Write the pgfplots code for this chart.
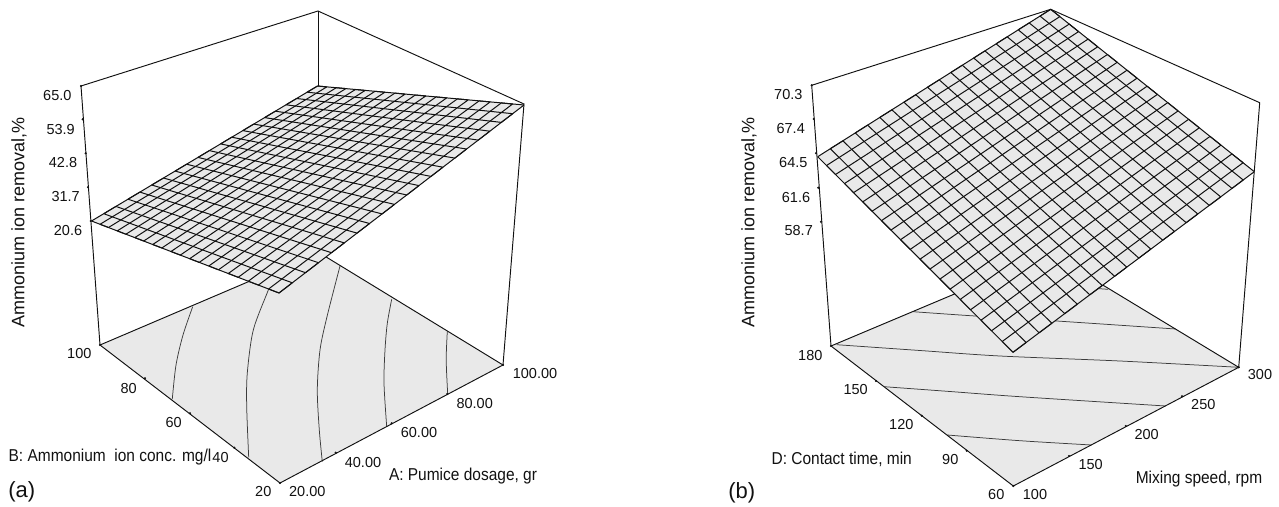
\documentclass[border=0pt]{standalone}
\usepackage{pgfplots}
\usepackage{fontspec}
\setmainfont{Liberation Sans}
\newfontfamily\condfont[FakeStretch=0.9]{Liberation Sans}
\pgfplotsset{compat=1.18}

\definecolor{ink}{HTML}{111111}
\definecolor{pane}{HTML}{E9E9E9}
\definecolor{iso}{HTML}{3C3C3C}

% both panels are drawn in the pixel frame of the reference
\pgfplotsset{
    panel/.style={
        x=1pt, y=1pt, xmin=0, xmax=1279, ymin=0, ymax=506,
        y dir=reverse, hide axis, clip=false,
    },
    box/.style={color=ink, line width=0.95pt, no markers},
    floor/.style={draw=none, fill=pane, no markers},
    contour/.style={color=iso, line width=0.75pt, no markers, smooth},
    mesh lines/.style={color=ink, line width=1pt, no markers, line join=bevel},
    ticks/.style={only marks, mark=*, mark size=0.9pt, color=ink},
}
\newcommand{\ticklab}[3]{\node[text=ink, font=\fontsize{14.5}{16}\selectfont] at (axis cs:#1,#2) {#3};}
\newcommand{\axlab}[3]{\node[text=ink, font=\condfont\fontsize{17.2}{19}\selectfont] at (axis cs:#1,#2) {#3};}
\newcommand{\zlab}[2]{\node[text=ink, rotate=90, font=\fontsize{18}{20}\selectfont] at (axis cs:#1,#2) {Ammonium ion removal,\%};}
\newcommand{\panellab}[3]{\node[text=ink, font=\fontsize{22}{24}\selectfont] at (axis cs:#1,#2) {#3};}

\begin{document}
\begin{tikzpicture}
% ---------- (a)
\begin{axis}[panel]
\addplot[floor] coordinates {(100,345)(318,252)(503,365)(280,483)} -- cycle;
\addplot[contour] coordinates {(192.7,306.7)(183,335)(176,365)(172.3,399)};
\addplot[contour] coordinates {(275,271)(268.3,290)(253.3,330)(247.3,373)(246.7,406.7)(248.7,457.3)};
\addplot[contour] coordinates {(340,266)(327,316.7)(320,350)(317.3,390)(319.3,430)(322.3,461.7)};
\addplot[contour] coordinates {(391.7,299.3)(387.3,323.3)(385,350)(384,383.3)(386.7,426.7)};
\addplot[contour] coordinates {(447.3,331.7)(446.2,360)(447.7,394)};
% box
\addplot[box] coordinates {(100,345)(81,86)(318,11)(524,104)(503,365)};
\addplot[box] coordinates {(318,11)(318,252)};
\addplot[box] coordinates {(100,345)(318,252)(503,365)(280,483)(100,345)};
\addplot[ticks] coordinates {(81,86)(82.7,119.3)(85.7,153.3)(88,187.3)(90.7,221)(100,345)
    (145,378.3)(190,413.3)(234.3,447.7)(280,483)(335.7,452.7)(391.7,423.3)(447.3,394)(503,365)};
% surface
\addplot[draw=none, fill=pane, no markers] coordinates {(91.5,221)(317.5,86)(524,105)(279,293)} -- cycle;
\addplot[mesh lines] coordinates {
(91.5,221)(279,293)(292.3,282.8)(103.8,213.7)
(115.9,206.4)(305.5,272.7)(318.5,262.7)(128,199.2)
(139.9,192.1)(331.5,252.7)(344.3,242.9)(151.7,185)
(163.5,178)(357,233.1)(369.6,223.5)(175.1,171.1)
(186.6,164.2)(382.1,213.9)(394.5,204.4)(198,157.4)
(209.4,150.6)(406.8,195)(419,185.6)(220.6,143.9)
(231.7,137.2)(431,176.4)(443,167.2)(242.8,130.6)
(253.7,124.1)(454.9,158.1)(466.6,149)(264.6,117.6)
(275.3,111.2)(478.3,140.1)(489.9,131.2)(286,104.8)
(296.6,98.5)(501.3,122.4)(512.7,113.7)(307.1,92.2)
(317.5,86)(524,105)};
\addplot[mesh lines] coordinates {
(91.5,221)(317.5,86)(326.8,86.9)(100,224.3)
(108.5,227.5)(336.3,87.7)(345.8,88.6)(117.2,230.9)
(125.9,234.2)(355.4,89.5)(365.2,90.4)(134.8,237.6)
(143.7,241)(375,91.3)(384.9,92.2)(152.7,244.5)
(161.8,248)(394.9,93.1)(405.1,94.1)(171,251.5)
(180.3,255.1)(415.3,95)(425.7,96)(189.7,258.7)
(199.2,262.4)(436.1,96.9)(446.7,97.9)(208.8,266)
(218.5,269.8)(457.4,98.9)(468.2,99.9)(228.3,273.5)
(238.2,277.3)(479.1,100.9)(490.2,101.9)(248.3,281.2)
(258.4,285.1)(501.3,102.9)(512.6,104)(268.6,289)
(279,293)(524,105)};
% labels
\ticklab{57.3}{95.7}{65.0}
\ticklab{60.7}{129.3}{53.9}
\ticklab{63}{162.7}{42.8}
\ticklab{65.7}{196.7}{31.7}
\ticklab{68}{230.3}{20.6}
\ticklab{79.3}{353.3}{100}
\ticklab{128.7}{388.3}{80}
\ticklab{173.7}{422.3}{60}
\ticklab{220.5}{457.3}{40}
\ticklab{263.3}{491.7}{20}
\ticklab{307.3}{491.7}{20.00}
\ticklab{363}{462.7}{40.00}
\ticklab{419}{432.3}{60.00}
\ticklab{474.7}{403.3}{80.00}
\ticklab{535}{373.3}{100.00}
\zlab{19}{222.5}
\axlab{110}{456.7}{B: Ammonium\ \ ion conc. mg/l}
\axlab{463}{475.7}{A: Pumice dosage, gr}
\panellab{21.7}{492}{(a)}
\path (axis cs:0,0) (axis cs:1279,506);
\end{axis}
% ---------- (b)
\begin{axis}[panel]
\addplot[floor] coordinates {(831,346)(1050.7,253.5)(1238.7,367.3)(1013.3,486)} -- cycle;
\addplot[contour] coordinates {(913.3,311.7)(975,316)(1056.7,321)(1175.7,329)};
\addplot[contour] coordinates {(836.7,344.7)(920,350.5)(1000,356)(1120,361)(1238.7,367.3)};
\addplot[contour] coordinates {(884.3,386.7)(950,391.5)(1020,396.7)(1165.7,406)};
\addplot[contour] coordinates {(947.3,435)(1020,440.7)(1091.7,445)};
\addplot[contour] coordinates {(1060,286)(1108,289.3)};
% box
\addplot[box] coordinates {(831,346)(811.7,85.3)(1050.7,9.3)(1259.7,102.7)(1238.7,367.3)};
\addplot[box] coordinates {(831,346)(1050.7,253.5)(1238.7,367.3)(1013.3,486)(831,346)};
\addplot[ticks] coordinates {(811.7,85.3)(813.7,119)(816,153.3)(818.3,187.7)(821,221.7)(831,346)
    (876,381)(921.7,415.7)(966.7,450.7)(1013.3,486)(1069,456)(1125.7,426)(1182,396.3)(1238.7,367.3)};
% surface
\addplot[draw=none, fill=pane, no markers] coordinates {(817.7,156.7)(1050.7,9.3)(1254.3,171.7)(1013,352.3)} -- cycle;
\addplot[mesh lines] coordinates {
(817.7,156.7)(1013,352.3)(1026.1,342.5)(830.3,148.7)
(842.9,140.8)(1039.1,332.8)(1051.9,323.2)(855.3,132.9)
(867.6,125.1)(1064.7,313.6)(1077.3,304.2)(879.8,117.4)
(891.9,109.8)(1089.8,294.8)(1102.2,285.5)(903.9,102.2)
(915.8,94.7)(1114.6,276.3)(1126.8,267.2)(927.5,87.2)
(939.2,79.8)(1138.8,258.1)(1150.8,249.1)(950.8,72.5)
(962.3,65.2)(1162.7,240.2)(1174.5,231.4)(973.7,58)
(984.9,50.9)(1186.2,222.7)(1197.8,214)(996.1,43.8)
(1007.2,36.8)(1209.3,205.4)(1220.7,196.9)(1018.2,29.8)
(1029.2,22.9)(1232,188.4)(1243.2,180)(1040,16.1)
(1050.7,9.3)(1254.3,171.7)};
\addplot[mesh lines] coordinates {
(817.7,156.7)(1050.7,9.3)(1059.9,16.6)(826.5,165.5)
(835.5,174.5)(1069.2,24.1)(1078.6,31.6)(844.5,183.5)
(853.6,192.6)(1088.1,39.1)(1097.7,46.8)(862.8,201.8)
(872.1,211.2)(1107.4,54.5)(1117.2,62.3)(881.5,220.6)
(890.9,230.1)(1127,70.2)(1137,78.2)(900.5,239.7)
(910.2,249.4)(1147.1,86.2)(1157.4,94.4)(920,259.2)
(929.9,269.1)(1167.7,102.6)(1178.1,110.9)(939.9,279.1)
(950,289.2)(1188.6,119.3)(1199.3,127.8)(960.2,299.4)
(970.5,309.8)(1210,136.4)(1220.9,145.1)(981,320.2)
(991.5,330.8)(1231.9,153.9)(1243.1,162.7)(1002.2,341.5)
(1013,352.3)(1254.3,171.7)};
% labels
\ticklab{788.3}{94.3}{70.3}
\ticklab{790.7}{128.3}{67.4}
\ticklab{793.3}{162.3}{64.5}
\ticklab{796}{197.3}{61.6}
\ticklab{798.7}{231}{58.7}
\ticklab{810.3}{355.3}{180}
\ticklab{855.7}{390}{150}
\ticklab{901.3}{425}{120}
\ticklab{950.3}{460}{90}
\ticklab{996.3}{495}{60}
\ticklab{1035}{495}{100}
\ticklab{1090.7}{465}{150}
\ticklab{1146.7}{435}{200}
\ticklab{1203.3}{405}{250}
\ticklab{1260}{375}{300}
\zlab{749}{222.5}
\axlab{841.7}{459.3}{D: Contact time, min}
\axlab{1199}{478.7}{Mixing speed, rpm}
\panellab{741.7}{492.3}{(b)}
\path (axis cs:0,0) (axis cs:1279,506);
\end{axis}
\end{tikzpicture}
\end{document}
